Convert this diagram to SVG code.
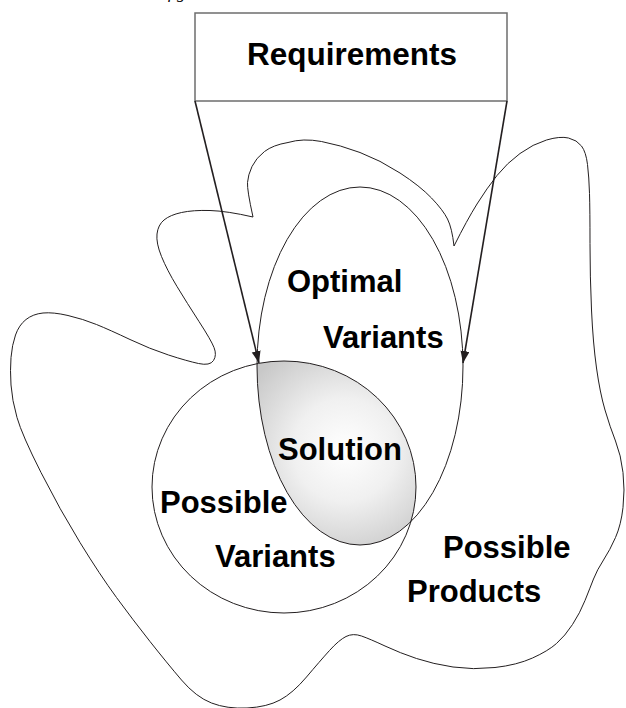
<svg xmlns="http://www.w3.org/2000/svg" width="626" height="708" viewBox="0 0 626 708">
<style>
.lbl{font-family:"Liberation Sans",Arial,sans-serif;font-weight:bold;font-size:31px;fill:#000}
.thin{fill:none;stroke:#231f20;stroke-width:1}
.conn{fill:none;stroke:#231f20;stroke-width:1.6}
.cap{font-family:"Liberation Serif","Times New Roman",serif;font-style:italic;font-size:17px;fill:#000}
</style>
<defs>
<radialGradient id="solGrad" gradientUnits="userSpaceOnUse" cx="345" cy="450" r="115">
<stop offset="0" stop-color="#ffffff"/>
<stop offset="0.45" stop-color="#f0f0f0"/>
<stop offset="1" stop-color="#c8c8c8"/>
</radialGradient>
<clipPath id="circleClip"><ellipse cx="284" cy="487" rx="132" ry="126"/></clipPath>
<marker id="arrow" markerUnits="userSpaceOnUse" markerWidth="13" markerHeight="10" refX="12" refY="4.5" orient="auto">
<path d="M0,0 L12,4.5 L0,9 Z" fill="#231f20"/>
</marker>
</defs>
<rect width="626" height="708" fill="#fff"/>
<text class="cap" x="168" y="-2">f g</text>
<g id="possible-products">
<path class="thin" d="M253,217 Q247,190 247.5,182.5 Q248,175 252,166.5 Q256,158 264.5,151.5 Q273,145 288,142.5 Q303,138 321.5,141.5 Q340,145 360,152.5 Q380,160 400,173 Q420,186 431.5,198 Q443,210 447.5,219 Q452,228 454,246 Q467,220 477,204 Q487,188 497,175.5 Q507,163 520,153.5 Q533,144 546.5,140 Q560,136 568.5,138 Q577,140 581.5,146 Q586,152 587.5,164.5 Q589,177 589.5,193.5 Q590,210 590,243.5 Q590,277 591.5,310 Q593,343 596.5,368 Q600,393 605,410 Q610,427 615.5,441 Q621,455 623,472.5 Q625,490 623,507.5 Q621,525 615.5,537.5 Q610,550 603.5,560 Q597,570 593.5,579 Q590,588 585,600.5 Q580,613 572.5,624.5 Q565,636 556.5,643.5 Q548,651 532.5,658 Q517,665 495,667.5 Q473,670 453,667 Q433,664 416.5,658.5 Q400,653 385,646 Q370,639 361.5,636 Q353,633 346,636.5 Q339,640 329.5,650.5 Q320,661 306.5,677 Q293,693 280,700 Q267,707 247,708 Q227,709 211.5,703 Q196,697 181.5,680 Q167,663 150,641.5 Q133,620 116.5,597.5 Q100,575 80,542.5 Q60,510 41,472.5 Q22,435 17,417.5 Q12,400 11,385 Q10,370 11,357.5 Q12,345 15.5,335 Q19,325 26,319.5 Q33,314 43,313 Q53,312 68,315.5 Q83,319 96.5,324.5 Q110,330 130,339.5 Q150,349 168.5,355 Q187,361 198.5,363.5 Q210,366 213.5,360.5 Q217,355 214,347.5 Q211,340 199,321.5 Q187,303 177,286.5 Q167,270 161.5,256.5 Q156,243 157,234 Q158,225 164,220 Q170,215 181.5,212.5 Q193,210 210,210.5 Q227,211 253,217 Z"/>
<text class="lbl" x="443" y="558">Possible</text>
<text class="lbl" x="407" y="602">Products</text>
</g>
<g id="solution">
<ellipse cx="360" cy="366" rx="103" ry="179" fill="url(#solGrad)" clip-path="url(#circleClip)"/>
<text class="lbl" x="278" y="460">Solution</text>
</g>
<g id="possible-variants">
<ellipse class="thin" cx="284" cy="487" rx="132" ry="126"/>
<text class="lbl" x="160" y="513">Possible</text>
<text class="lbl" x="215" y="567">Variants</text>
</g>
<g id="optimal-variants">
<ellipse class="thin" cx="360" cy="366" rx="103" ry="179"/>
<text class="lbl" x="287" y="292">Optimal</text>
<text class="lbl" x="323" y="348">Variants</text>
</g>
<g id="requirements">
<rect x="195" y="13" width="312" height="88" fill="none" stroke="#6d6d6d" stroke-width="1.5"/>
<text class="lbl" x="247" y="65" font-size="29" textLength="210" lengthAdjust="spacingAndGlyphs">Requirements</text>
</g>
<g id="connectors">
<line class="conn" x1="195" y1="101" x2="259" y2="363" marker-end="url(#arrow)"/>
<line class="conn" x1="507" y1="101" x2="463" y2="363" marker-end="url(#arrow)"/>
</g>
</svg>
